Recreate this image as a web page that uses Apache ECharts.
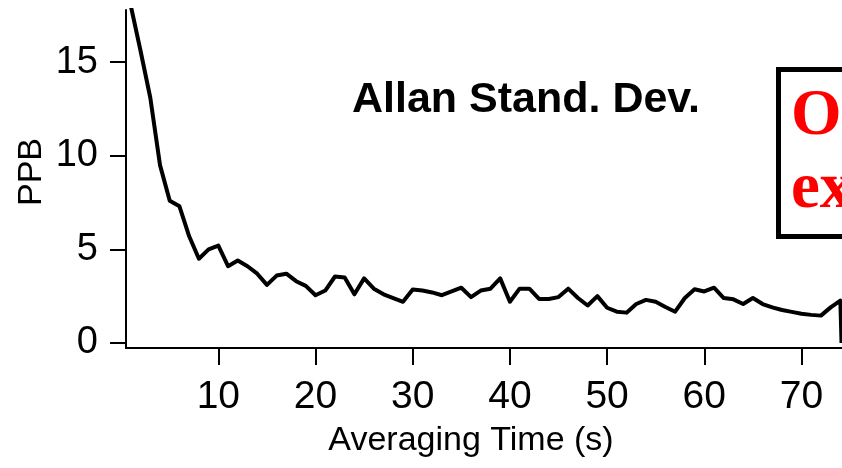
<!DOCTYPE html>
<html>
<head>
<meta charset="utf-8">
<script src="https://cdn.jsdelivr.net/npm/echarts@6/dist/echarts.min.js"></script>
<style>
  html, body { margin: 0; padding: 0; background: #fff; }
  #chart { width: 842px; height: 468px; }
</style>
</head>
<body>
<div id="chart"></div>
<script>
// Averaging time (s) and Allan deviation (PPB)
const tau = [1, 2, 3, 4, 5, 6, 7, 8, 9, 10,
  11, 12, 13, 14, 15, 16, 17, 18, 19, 20,
  21, 22, 23, 24, 25, 26, 27, 28, 29, 30,
  31, 32, 33, 34, 35, 36, 37, 38, 39, 40,
  41, 42, 43, 44, 45, 46, 47, 48, 49, 50,
  51, 52, 53, 54, 55, 56, 57, 58, 59, 60,
  61, 62, 63, 64, 65, 66, 67, 68, 69, 70,
  71, 72, 73, 74, 74.12];
const allanDev = [18.0, 15.6, 13.1, 9.5, 7.6, 7.3, 5.7, 4.5, 5.0, 5.2,
  4.1, 4.4, 4.1, 3.7, 3.1, 3.6, 3.7, 3.3, 3.05, 2.55,
  2.8, 3.55, 3.5, 2.6, 3.45, 2.9, 2.6, 2.4, 2.2, 2.85,
  2.8, 2.7, 2.55, 2.75, 2.95, 2.45, 2.8, 2.9, 3.45, 2.2,
  2.9, 2.9, 2.35, 2.35, 2.45, 2.9, 2.4, 2.0, 2.5, 1.88,
  1.67, 1.62, 2.08, 2.3, 2.2, 1.92, 1.67, 2.4, 2.87, 2.75,
  2.95, 2.4, 2.33, 2.08, 2.4, 2.08, 1.9, 1.76, 1.66, 1.56,
  1.5, 1.46, 1.9, 2.26, 0];
const xTicks = [10, 20, 30, 40, 50, 60, 70];
const yTicks = [0, 5, 10, 15];

const chart = echarts.init(document.getElementById('chart'), null, { renderer: 'canvas' });

const sans = '"Liberation Sans", Arial, Helvetica, sans-serif';
const serif = '"Liberation Serif", "Times New Roman", serif';

chart.setOption({
  animation: false,
  backgroundColor: '#ffffff',
  grid: { left: 126, right: 0, top: 10, bottom: 120 },
  xAxis: {
    type: 'value',
    min: 0.5,
    max: 74.17,
    axisLine: { show: true, onZero: false, lineStyle: { color: '#000', width: 2 } },
    axisTick: { show: true, customValues: xTicks, length: 17, lineStyle: { color: '#000', width: 2 } },
    axisLabel: { customValues: xTicks, color: '#000', fontFamily: sans, fontSize: 39, margin: 30 },
    splitLine: { show: false }
  },
  yAxis: {
    type: 'value',
    min: -0.27,
    max: 17.79,
    axisLine: { show: true, onZero: false, lineStyle: { color: '#000', width: 2 } },
    axisTick: { show: true, customValues: yTicks, length: 16, lineStyle: { color: '#000', width: 2 } },
    axisLabel: { customValues: yTicks, color: '#000', fontFamily: sans, fontSize: 38, margin: 28 },
    splitLine: { show: false }
  },
  series: [{
    type: 'line',
    data: tau.map((t, i) => [t, allanDev[i]]),
    showSymbol: false,
    clip: true,
    lineStyle: { color: '#000', width: 4, join: 'round' }
  }],
  graphic: [
    {
      type: 'text',
      x: 526, y: 100,
      style: { text: 'Allan Stand. Dev.', fill: '#000', font: 'bold 43px ' + sans, align: 'center', verticalAlign: 'middle' }
    },
    {
      type: 'text',
      x: 471, y: 441,
      style: { text: 'Averaging Time (s)', fill: '#000', font: '34px ' + sans, align: 'center', verticalAlign: 'middle' }
    },
    {
      type: 'text',
      x: 32, y: 172,
      rotation: Math.PI / 2,
      style: { text: 'PPB', fill: '#000', font: '34px ' + sans, align: 'center', verticalAlign: 'middle' }
    },
    {
      type: 'rect',
      shape: { x: 778.5, y: 69.5, width: 120, height: 167 },
      style: { fill: '#fff', stroke: '#000', lineWidth: 5 }
    },
    {
      type: 'text',
      x: 791, y: 117,
      style: { text: 'O', fill: '#ff0000', font: 'bold 65px ' + serif, align: 'left', verticalAlign: 'middle' }
    },
    {
      type: 'text',
      x: 791, y: 190,
      style: { text: 'ex', fill: '#ff0000', font: 'bold 65px ' + serif, align: 'left', verticalAlign: 'middle' }
    }
  ]
});
</script>
</body>
</html>
